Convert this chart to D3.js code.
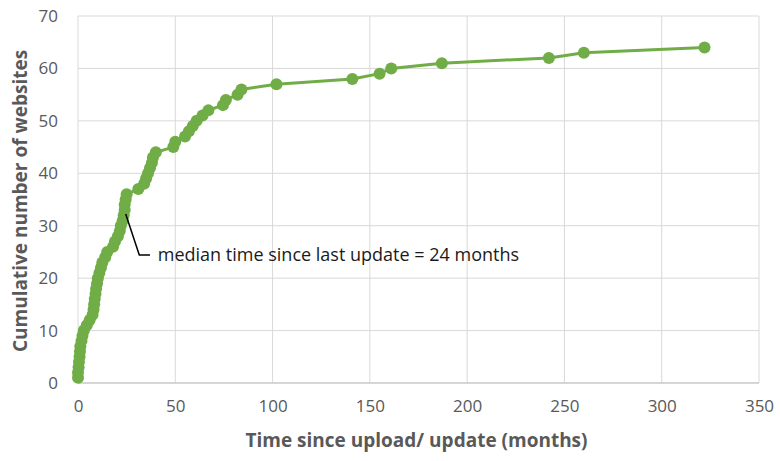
<!DOCTYPE html>
<html>
<head>
<meta charset="utf-8">
<script src="https://cdn.jsdelivr.net/npm/d3@7"></script>
<style>
  body { margin: 0; background: #fff; }
  text { font-family: "Open Sans", sans-serif; }
</style>
</head>
<body>
<div id="chart"></div>
<script>
// months since upload/update, one entry per website (sorted)
var months = [0, 0, 0.3, 0.5, 0.8, 1, 1.2, 1.8, 2.3, 3,
  4.5, 6, 7.5, 8, 8.3, 8.6, 9, 9.3, 9.8, 10.2,
  11, 11.8, 12.5, 14, 15, 18, 19, 20.5, 21.5, 22,
  23, 23.5, 24, 24, 24.5, 25, 31, 34, 35, 36,
  37, 38, 38.5, 40, 49, 50, 55, 57, 59, 61,
  64, 67, 74.5, 76, 82, 84, 102, 141, 155, 161,
  187, 242, 260, 322];
var cumulative = months.map(function(d, i) { return i + 1; });
var xTicks = [0, 50, 100, 150, 200, 250, 300, 350];
var yTicks = [0, 10, 20, 30, 40, 50, 60, 70];

var W = 780, H = 461;
var margin = {left: 78, right: 21, top: 16, bottom: 78};
var w = W - margin.left - margin.right, h = H - margin.top - margin.bottom;

var svg = d3.select("#chart").append("svg")
    .attr("width", W).attr("height", H);
var g = svg.append("g")
    .attr("transform", "translate(" + margin.left + "," + margin.top + ")");

var x = d3.scaleLinear().domain([0, 350]).range([0, w]);
var y = d3.scaleLinear().domain([0, 70]).range([h, 0]);

// grid
g.append("g").selectAll("line").data(xTicks).enter().append("line")
    .attr("x1", d => x(d)).attr("x2", d => x(d))
    .attr("y1", 0).attr("y2", h)
    .attr("stroke", "#d9d9d9");
g.append("g").selectAll("line").data(yTicks).enter().append("line")
    .attr("x1", 0).attr("x2", w)
    .attr("y1", d => y(d)).attr("y2", d => y(d))
    .attr("stroke", "#d9d9d9");

// axes labels
var xAxis = g.append("g").attr("transform", "translate(0," + h + ")")
    .call(d3.axisBottom(x).tickValues(xTicks).tickSize(0).tickPadding(17));
var yAxis = g.append("g")
    .call(d3.axisLeft(y).tickValues(yTicks).tickSize(0).tickPadding(20));
[xAxis, yAxis].forEach(function(a) {
  a.select(".domain").remove();
  a.selectAll("text").attr("fill", "#595959").style("font-size", "17px")
      .style("font-family", "'Open Sans', sans-serif");
});
g.append("line").attr("x1", 0).attr("x2", w).attr("y1", h).attr("y2", h)
    .attr("stroke", "#bfbfbf");

// line + markers
var green = "#70ad47";
var line = d3.line().x(d => x(d[0])).y(d => y(d[1]));
var pts = months.map(function(m, i) { return [m, cumulative[i]]; });
g.append("path").datum(pts)
    .attr("d", line).attr("fill", "none")
    .attr("stroke", green).attr("stroke-width", 3);
g.append("g").selectAll("circle").data(pts).enter().append("circle")
    .attr("cx", d => x(d[0])).attr("cy", d => y(d[1]))
    .attr("r", 6).attr("fill", green);

// annotation
var ax = x(24), ay = y(33);
g.append("polyline")
    .attr("points", [[ax + 1, ay + 4], [x(31.5), y(24.4)], [x(37), y(24.4)]].map(p => p.join(",")).join(" "))
    .attr("fill", "none").attr("stroke", "#000").attr("stroke-width", 1.5);
g.append("text")
    .attr("x", x(41)).attr("y", y(24.4) + 6)
    .attr("fill", "#1a1a1a").style("font-size", "18px")
    .text("median time since last update = 24 months");

// titles
svg.append("text")
    .attr("x", margin.left + w / 2 - 2).attr("y", 447)
    .attr("text-anchor", "middle")
    .attr("fill", "#595959").style("font-size", "19px").style("font-weight", "bold")
    .text("Time since upload/ update (months)");
svg.append("text")
    .attr("transform", "translate(27,201) rotate(-90)")
    .attr("text-anchor", "middle")
    .attr("fill", "#595959").style("font-size", "19px").style("font-weight", "bold")
    .text("Cumulative number of websites");
</script>
</body>
</html>
